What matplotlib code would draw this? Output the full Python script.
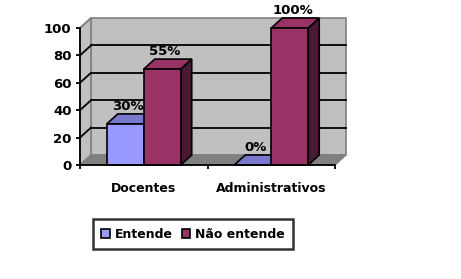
import matplotlib.pyplot as plt
from matplotlib.patches import Polygon, Rectangle

categories = ["Docentes", "Administrativos"]
series = ["Entende", "Não entende"]
entende = [30, 0]
nao_entende = [70, 100]
entende_labels = ["30%", "0%"]
nao_entende_labels = ["55%", "100%"]
y_ticks = [0, 20, 40, 60, 80, 100]

front = ["#9999FF", "#993366"]
top = ["#7878CC", "#993366"]
side = ["#4C4C80", "#4A1A33"]

plt.rcParams["font.family"] = "DejaVu Sans"
plt.rcParams["font.weight"] = "bold"
plt.rcParams["font.size"] = 9

fig = plt.figure(figsize=(4.61, 2.79), dpi=100)
ax = fig.add_axes([80 / 461, 114 / 279, 255 / 461, 137 / 279])
ax.set_xlim(0, 2)
ax.set_ylim(0, 100)

DX = 11 / 127.5   # depth in data units (x)
DY = 10 / 1.37    # depth in data units (y)
W = 0.29
wall = "#C0C0C0"
edge = "#808080"

# walls
ax.add_patch(Rectangle((DX, DY), 2, 100, fc=wall, ec=edge, lw=1.2, clip_on=False, zorder=0))
ax.add_patch(Polygon([(0, 0), (DX, DY), (DX, 100 + DY), (0, 100)], closed=True,
                     fc=wall, ec=edge, lw=1.2, clip_on=False, zorder=0))
ax.add_patch(Polygon([(0, 0), (2, 0), (2 + DX, DY), (DX, DY)], closed=True,
                     fc="#808080", ec="#808080", lw=1, clip_on=False, zorder=1))
for v in y_ticks[1:-1]:
    ax.plot([DX, 2 + DX], [v + DY, v + DY], color="black", lw=1.3, zorder=1, clip_on=False)
    ax.plot([0, DX], [v, v + DY], color="black", lw=1.3, zorder=1, clip_on=False)
ax.plot([0, DX], [100, 100 + DY], color=edge, lw=1.2, zorder=1, clip_on=False)


def bar3d(x0, h, k, z):
    x1 = x0 + W
    kw = dict(closed=True, ec="black", lw=1.2, clip_on=False, zorder=z)
    ax.add_patch(Polygon([(x1, 0), (x1 + DX, DY), (x1 + DX, h + DY), (x1, h)], fc=side[k], **kw))
    ax.add_patch(Polygon([(x0, h), (x1, h), (x1 + DX, h + DY), (x0 + DX, h + DY)], fc=top[k], **kw))
    if h > 0:
        ax.add_patch(Rectangle((x0, 0), W, h, fc=front[k], ec="black", lw=1.2, clip_on=False, zorder=z))


z = 3
for i in range(len(categories)):
    c = i + 0.5
    bar3d(c - W, entende[i], 0, z)
    ax.text(c - W / 2 + DX / 4, entende[i] + DY + 1, entende_labels[i], ha="center", va="bottom",
            fontsize=9.5, zorder=10)
    bar3d(c, nao_entende[i], 1, z + 1)
    ax.text(c + W / 2 + DX / 4, nao_entende[i] + DY + 0.5, nao_entende_labels[i], ha="center", va="bottom",
            fontsize=9.5, zorder=10)
    z += 2

for s in ["top", "right"]:
    ax.spines[s].set_visible(False)
ax.spines["left"].set_linewidth(1.3)
ax.spines["bottom"].set_linewidth(1.3)
ax.spines["left"].set_zorder(20)
ax.spines["bottom"].set_zorder(20)
ax.patch.set_visible(False)

ax.set_yticks(y_ticks)
ax.tick_params(axis="y", length=3, width=1.3, pad=3, labelsize=9.5)
ax.set_xticks([0, 1, 2])
ax.set_xticklabels([])
ax.tick_params(axis="x", which="major", length=3, width=1.3, direction="out")
ax.set_xticks([0.5, 1.5], minor=True)
ax.set_xticklabels(categories, minor=True)
ax.tick_params(axis="x", which="minor", length=0, pad=12)

handles = [Rectangle((0, 0), 1, 1, fc=front[k], ec="black", lw=1.2) for k in range(2)]
leg = fig.legend(handles, series, ncol=2, loc="center", bbox_to_anchor=(193 / 461, 1 - 234 / 279),
                 frameon=True, fancybox=False, handlelength=0.7, handleheight=0.7,
                 handletextpad=0.4, columnspacing=0.7, borderpad=0.65, borderaxespad=0, fontsize=9)
leg.get_frame().set_edgecolor("black")
leg.get_frame().set_linewidth(1.8)

fig.savefig("out.png", dpi=100)
